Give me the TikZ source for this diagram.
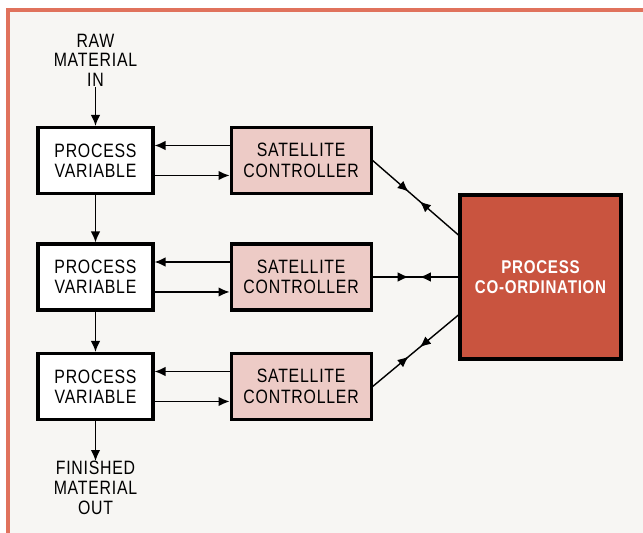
\documentclass[tikz,border=0pt]{standalone}
\usepackage{fontspec}
\setmainfont{Liberation Sans}[FakeStretch=0.82, LetterSpace=4]
\usepackage{tikz}
\usetikzlibrary{positioning, arrows.meta, decorations.markings}
\usepackage{xcolor}
\definecolor{framered}{HTML}{E0725C}
\definecolor{satpink}{HTML}{EDCBC6}
\definecolor{coordred}{HTML}{C9543F}
\definecolor{paper}{HTML}{F7F6F3}

\begin{document}
\begin{tikzpicture}[
    x=0.02cm, y=-0.02cm,
    varbox/.style={rectangle, draw, line width=1.8pt, fill=white, minimum width=2.3cm, minimum height=1.32cm, align=center, font=\fontsize{11}{11.6}\selectfont},
    satbox/.style={varbox, fill=satpink, minimum width=2.8cm},
    coordbox/.style={rectangle, draw, line width=1.8pt, fill=coordred, text=white, minimum width=3.22cm, minimum height=3.28cm, align=center, font=\fontsize{10.5}{11.6}\selectfont\bfseries},
    flowtext/.style={align=center, inner sep=0pt, font=\fontsize{11}{11.2}\selectfont},
    arrow/.style={-{Latex[length=2.2mm, width=1.9mm]}, line width=0.8pt},
    twoway/.style={line width=0.8pt, postaction={decorate}, decoration={markings,
        mark=at position 0.42 with {\arrow{Latex[length=2.2mm, width=1.9mm]}},
        mark=at position 0.55 with {\arrowreversed{Latex[length=2.2mm, width=1.9mm]}}}}
]
    % Frame
    \useasboundingbox (0,0) rectangle (643,533);
    \fill[paper] (8,10) rectangle (643,533);
    \draw[framered, line width=2.2pt] (8,533) -- (8,10) -- (643,10);

    % Nodes
    \node[varbox] (var1) at (95.5,160.5) {PROCESS\\VARIABLE};
    \node[varbox] (var2) at (95.5,277) {PROCESS\\VARIABLE};
    \node[varbox] (var3) at (95.5,386.5) {PROCESS\\VARIABLE};
    \node[satbox, right=1.5cm of var1] (sat1) {SATELLITE\\CONTROLLER};
    \node[satbox, right=1.5cm of var2] (sat2) {SATELLITE\\CONTROLLER};
    \node[satbox, right=1.5cm of var3] (sat3) {SATELLITE\\CONTROLLER};
    \node[coordbox] (coord) at (540.5,277) {PROCESS\\CO-ORDINATION};
    \node[flowtext, above=0.78cm of var1] (rawin) {RAW\\MATERIAL\\IN};
    \node[flowtext, below=0.8cm of var3] (finout) {FINISHED\\MATERIAL\\OUT};

    % Edges
    \draw[arrow] (rawin) -- (var1);
    \draw[arrow] (var1) -- (var2);
    \draw[arrow] (var2) -- (var3);
    \draw[arrow] (var3) -- (finout);
    \foreach \i in {1,2,3} {
        \draw[arrow] ([yshift=0.3cm]sat\i.west) -- ([yshift=0.3cm]var\i.east);
        \draw[arrow] ([yshift=-0.3cm]var\i.east) -- ([yshift=-0.3cm]sat\i.west);
    }
    \draw[twoway] (sat1.east) -- ([yshift=0.84cm]coord.west);
    \draw[twoway] (sat2.east) -- (coord.west);
    \draw[twoway] (sat3.east) -- ([yshift=-0.76cm]coord.west);
\end{tikzpicture}
\end{document}
